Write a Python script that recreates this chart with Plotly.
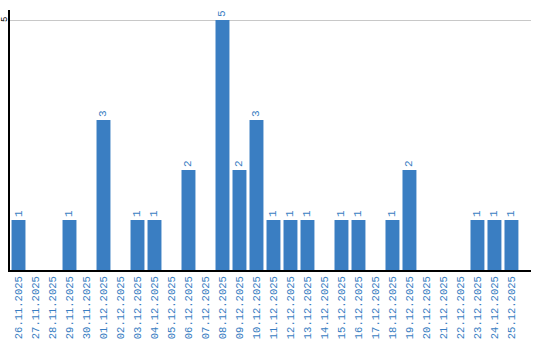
import plotly.graph_objects as go

dates = ["26.11.2025", "27.11.2025", "28.11.2025", "29.11.2025", "30.11.2025",
         "01.12.2025", "02.12.2025", "03.12.2025", "04.12.2025", "05.12.2025",
         "06.12.2025", "07.12.2025", "08.12.2025", "09.12.2025", "10.12.2025",
         "11.12.2025", "12.12.2025", "13.12.2025", "14.12.2025", "15.12.2025",
         "16.12.2025", "17.12.2025", "18.12.2025", "19.12.2025", "20.12.2025",
         "21.12.2025", "22.12.2025", "23.12.2025", "24.12.2025", "25.12.2025"]
counts = [1, 0, 0, 1, 0, 3, 0, 1, 1, 0, 2, 0, 5, 2, 3, 1, 1, 1, 0, 1,
          1, 0, 1, 2, 0, 0, 0, 1, 1, 1]
ytick_vals = [5]

blue = "#3a7ec2"
labels = [str(v) if v > 0 else "" for v in counts]

fig = go.Figure(go.Bar(
    x=list(range(len(dates))), y=counts, marker_color=blue, marker_line_width=0,
    text=labels, textposition="outside", textangle=-90, cliponaxis=False,
    textfont=dict(color=blue, size=11, family="Liberation Mono"),
))
for v in ytick_vals:
    fig.add_annotation(x=0, xref="paper", xanchor="center", yanchor="middle", xshift=-5,
                       y=v, yref="y", text=str(v), textangle=-90, showarrow=False,
                       font=dict(color="black", size=9, family="Liberation Mono"))
fig.update_layout(
    width=540, height=340, margin=dict(l=10, r=9, t=10, b=70),
    plot_bgcolor="white", paper_bgcolor="white", showlegend=False, bargap=0.18,
    xaxis=dict(tickmode="array", tickvals=list(range(len(dates))), ticktext=dates,
               range=[-0.5, 30.15], tickangle=-90, showgrid=False, showline=True,
               linecolor="black", linewidth=2, ticks="", zeroline=False, automargin=False,
               tickfont=dict(color=blue, size=10.5, family="Liberation Mono")),
    yaxis=dict(range=[0, 5.2], tickvals=ytick_vals, showgrid=True, gridcolor="#c8c8c8",
               gridwidth=1, showline=True, linecolor="black", linewidth=2, ticks="",
               zeroline=False, showticklabels=False, automargin=False),
)
fig.write_html("out.html")
